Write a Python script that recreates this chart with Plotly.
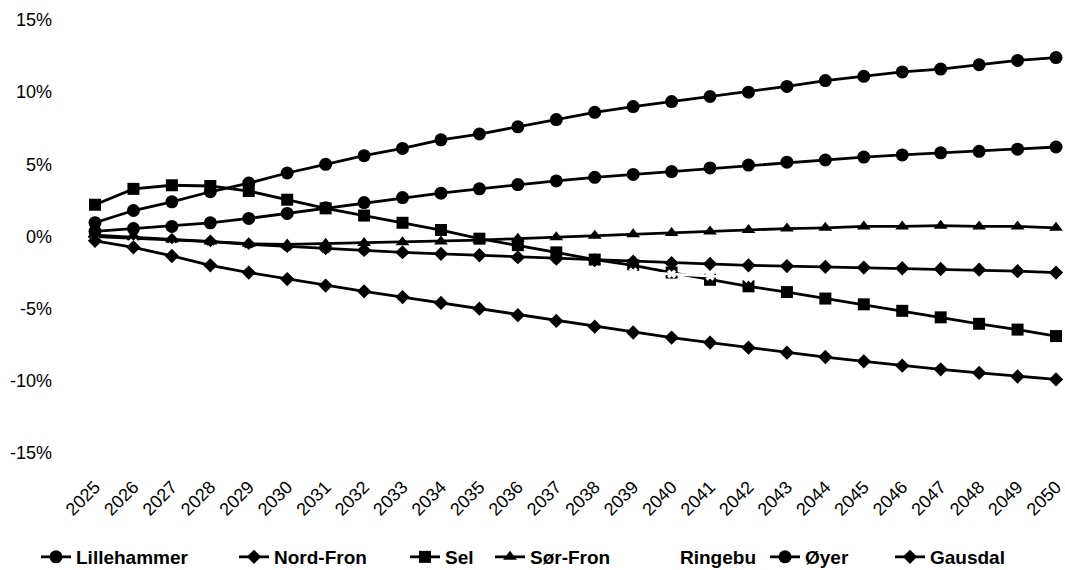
import plotly.graph_objects as go

years = list(range(2025, 2051))
y_ticks = [-15, -10, -5, 0, 5, 10, 15]

lillehammer = [0.96, 1.8, 2.4, 3.1, 3.7, 4.4, 5.0, 5.6, 6.1, 6.7, 7.1, 7.6, 8.1, 8.6, 9.0, 9.35,
               9.7, 10.0, 10.4, 10.8, 11.1, 11.4, 11.6, 11.9, 12.2, 12.4]
nord_fron = [0.0, -0.1, -0.25, -0.35, -0.55, -0.7, -0.85, -0.95, -1.1, -1.2, -1.3, -1.45, -1.55,
             -1.65, -1.75, -1.85, -1.9, -2.0, -2.05, -2.1, -2.15, -2.2, -2.25, -2.3, -2.4, -2.5]
sel = [2.2, 3.3, 3.55, 3.5, 3.15, 2.55, 1.95, 1.45, 0.95, 0.45, -0.15, -0.6, -1.1, -1.6, -2.0,
       -2.5, -3.0, -3.45, -3.85, -4.3, -4.7, -5.15, -5.6, -6.05, -6.45, -6.9]
sor_fron = [0.1, -0.05, -0.2, -0.35, -0.5, -0.55, -0.5, -0.45, -0.4, -0.35, -0.25, -0.15, -0.05,
            0.05, 0.15, 0.25, 0.35, 0.45, 0.55, 0.6, 0.7, 0.7, 0.75, 0.7, 0.7, 0.6]
ringebu = [-0.2, -0.45, -0.7, -0.9, -1.1, -1.3, -1.45, -1.6, -1.75, -1.9, -2.0, -2.1, -2.2, -2.3,
           -2.45, -2.6, -2.75, -2.9, -3.0, -3.1, -3.2, -3.3, -3.4, -3.5, -3.6, -3.7]
oyer = [0.35, 0.55, 0.7, 0.95, 1.25, 1.6, 2.0, 2.35, 2.7, 3.0, 3.3, 3.6, 3.85, 4.1, 4.3, 4.5,
        4.75, 4.95, 5.15, 5.3, 5.5, 5.65, 5.8, 5.9, 6.05, 6.2]
gausdal = [-0.3, -0.75, -1.35, -2.0, -2.5, -2.95, -3.4, -3.8, -4.2, -4.6, -5.0, -5.45, -5.85,
           -6.25, -6.65, -7.0, -7.35, -7.7, -8.05, -8.35, -8.65, -8.95, -9.2, -9.45, -9.7, -9.9]

series = [
    ("Lillehammer", lillehammer, "circle", 13, "black"),
    ("Nord-Fron", nord_fron, "diamond", 11, "black"),
    ("Sel", sel, "square", 12, "black"),
    ("Sør-Fron", sor_fron, "triangle-up", 12, "black"),
    ("Ringebu", ringebu, "x", 8, "white"),
    ("Øyer", oyer, "circle", 13, "black"),
    ("Gausdal", gausdal, "diamond", 11, "black"),
]

# left pixel of each legend entry (text start - 40)
legend_left_px = [36, 234, 405, 490, 640, 765, 890]

L, R, T, B = 95, 9, 20, 117
W, H = 1065, 570
pw = W - L - R
ph = H - T - B
FONT = "Liberation Sans, Arial, sans-serif"

fig = go.Figure()
legend_layouts = {}
for i, (name, vals, sym, size, col) in enumerate(series):
    key = "legend" if i == 0 else f"legend{i + 1}"
    fig.add_trace(go.Scatter(
        x=years, y=vals, name=name, mode="lines+markers",
        line=dict(color=col, width=2.8),
        marker=dict(symbol=sym, size=size, color=col, line=dict(width=0)),
        cliponaxis=False,
        legend=key,
    ))
    legend_layouts[key] = dict(
        orientation="h",
        x=(legend_left_px[i] - L) / pw, xanchor="left",
        y=-(557 - (H - B)) / ph, yanchor="middle",
        font=dict(size=19, family=FONT, weight="bold", color="black"),
        bgcolor="rgba(0,0,0,0)", borderwidth=0,
        itemwidth=30,
    )

fig.update_layout(
    width=W, height=H,
    margin=dict(l=L, r=R, t=T, b=B, autoexpand=False),
    paper_bgcolor="white", plot_bgcolor="white",
    font=dict(family=FONT, size=18, color="black"),
    showlegend=True,
    xaxis=dict(range=[2025, 2050], tickmode="array", tickvals=years,
               ticktext=[str(y) for y in years], tickangle=-45,
               showgrid=False, zeroline=False, showline=False, ticks="",
               automargin=False, ticklabelstandoff=19,
               ticklabeloverflow="allow",
               tickfont=dict(size=18, family=FONT)),
    yaxis=dict(range=[-15, 15], tickmode="array", tickvals=y_ticks,
               ticktext=[f"{v}%" for v in y_ticks],
               showgrid=False, zeroline=False, showline=False, ticks="",
               automargin=False, ticklabelstandoff=42,
               ticklabeloverflow="allow",
               tickfont=dict(size=18, family=FONT)),
    **legend_layouts,
)

fig.write_html(
    "out.html",
    config={"displayModeBar": False},
    post_script="document.body.style.margin='0';document.body.style.overflow='hidden';",
)
